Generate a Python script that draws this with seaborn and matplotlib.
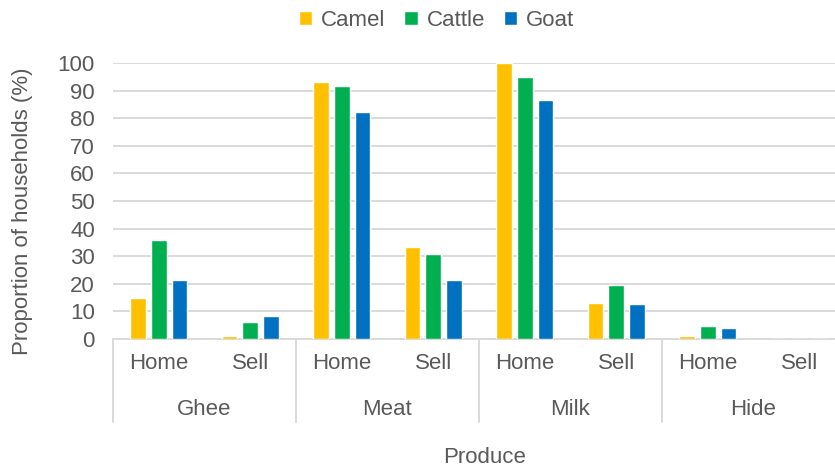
import pandas as pd
import seaborn as sns
from matplotlib import pyplot as plt
from matplotlib import transforms

# Chart data
products = ["Ghee", "Meat", "Milk", "Hide"]
uses = ["Home", "Sell"]
species = ["Camel", "Cattle", "Goat"]
camel = [15.0, 1.2, 93.1, 33.5, 100.0, 13.2, 1.2, 0.0]
cattle = [35.8, 6.2, 91.7, 30.8, 94.8, 19.5, 4.7, 0.0]
goat = [21.4, 8.5, 82.3, 21.4, 86.7, 12.7, 4.1, 0.0]
yticks = list(range(0, 101, 10))

colours = {"Camel": "#FFC000", "Cattle": "#00B050", "Goat": "#0070C0"}
text_grey = "#595959"
line_grey = "#D9D9D9"

sns.set_theme(style="white")
plt.rcParams["font.family"] = ["Liberation Sans", "DejaVu Sans"]

# long table: one row per bar
slots = [f"{p} {u}" for p in products for u in uses]
rows = []
for name, vals in zip(species, [camel, cattle, goat]):
    for slot, v in zip(slots, vals):
        rows.append({"slot": slot, "species": name, "value": v})
df = pd.DataFrame(rows)

fig = plt.figure(figsize=(8.35, 4.67), dpi=100)
ax = fig.add_axes([113 / 835, 1 - 339 / 467, 732 / 835, 276 / 467])

sns.barplot(
    data=df, x="slot", y="value", hue="species",
    order=slots, hue_order=species, palette=colours, saturation=1,
    width=0.68, gap=0.24, ax=ax, zorder=3, legend=True,
)

ax.set_xlim(-0.5, len(slots) - 0.5)
ax.set_ylim(0, 100)
ax.set_yticks(yticks)
ax.set_yticklabels([str(t) for t in yticks])
ax.set_xticks(range(len(slots)))
ax.set_xticklabels([u for p in products for u in uses])
ax.tick_params(axis="both", length=0, labelsize=16, colors=text_grey)
ax.tick_params(axis="y", pad=13)
ax.tick_params(axis="x", pad=10)
ax.yaxis.grid(True, color=line_grey, linewidth=1.4, zorder=0)
ax.set_axisbelow(True)
for side in ["left", "right", "top"]:
    ax.spines[side].set_visible(False)
ax.spines["bottom"].set_color(line_grey)
ax.spines["bottom"].set_linewidth(1.4)

ax.set_xlabel("")
ax.set_ylabel("Proportion of households (%)", fontsize=16, color=text_grey)
ax.yaxis.set_label_coords(-0.109, 0.464)

# group labels and separators below the axis
trans = transforms.blended_transform_factory(ax.transData, ax.transAxes)
for i in range(len(products) + 1):
    x = 2 * i - 0.5
    ax.plot([x, x], [0, -0.30], transform=trans, color=line_grey,
            linewidth=1.4, clip_on=False)
for i, p in enumerate(products):
    ax.text(2 * i + 0.5, -0.255, p, transform=trans, ha="center", va="center",
            fontsize=16, color=text_grey)
ax.text(0.5075, -0.43, "Produce", transform=ax.transAxes, ha="center",
        va="center", fontsize=16, color=text_grey)

ax.legend_.remove()
handles, labels = ax.get_legend_handles_labels()
fig.legend(handles, labels, loc="center", bbox_to_anchor=(0.523, 0.957),
           ncol=3, frameon=False, fontsize=16, handlelength=0.6,
           handleheight=0.6, handletextpad=0.4, columnspacing=0.85,
           labelcolor=text_grey)

fig.savefig("out.png", dpi=100)
